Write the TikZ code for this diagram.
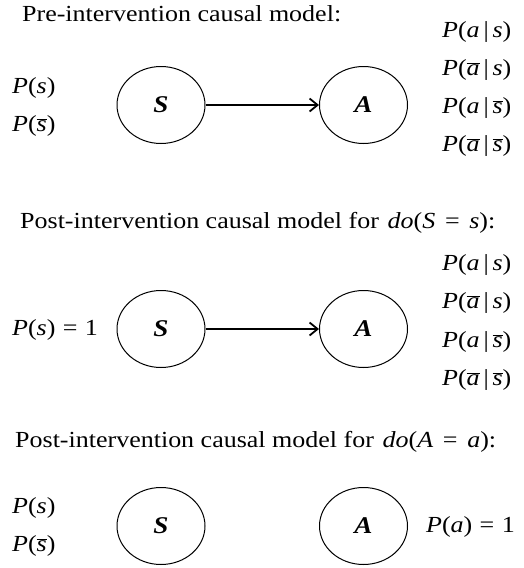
\documentclass[tikz,border=0pt]{standalone}
\usepackage{fontspec}
\setmainfont{Liberation Serif}[FakeStretch=1.13]
\usetikzlibrary{shapes.geometric,arrows.meta}

% italic letter with a bar over it (complement of an event)
\newcommand\cmpl[1]{\ensuremath{\overline{\mbox{\itshape #1}}}}
\newcommand\vbar{\,|\,}
\newcommand\eqs{\hspace{0.42em}=\hspace{0.42em}}
\newcommand\eqn{\hspace{0.32em}=\hspace{0.32em}}

\tikzset{
  var/.style={ellipse, draw, line width=1pt, minimum width=88pt,
    minimum height=77pt, inner sep=0pt,
    font=\fontsize{24}{26}\selectfont\bfseries\itshape},
  link/.style={line width=1.8pt, -{Straight Barb[length=8pt,width=13pt,line width=1.8pt]}},
  lab/.style={inner sep=0pt, anchor=west, font=\fontsize{23}{26}\selectfont},
  heading/.style={inner sep=0pt, anchor=base west, font=\fontsize{23}{26}\selectfont},
}

\begin{document}
\begin{tikzpicture}[x=1pt,y=-1pt]
\useasboundingbox (0,0) rectangle (523,568);

% ---- pre-intervention model
\node[heading] (h1) at (22,21) {Pre-intervention causal model:};
\node[var] (s1) at (161,105) {S};
\node[var] (a1) at (363.5,105) {A};
\draw[link] (s1) -- (a1);
\node[lab] (ps1)  at (12,88)  {\textit{P}(\textit{s})};
\node[lab] (pns1) at (12,126) {\textit{P}(\cmpl{s})};
\node[lab] (q11) at (442,32)  {\textit{P}(\textit{a}\vbar\textit{s})};
\node[lab] (q12) at (442,70)  {\textit{P}(\cmpl{a}\vbar\textit{s})};
\node[lab] (q13) at (442,108) {\textit{P}(\textit{a}\vbar\cmpl{s})};
\node[lab] (q14) at (442,146) {\textit{P}(\cmpl{a}\vbar\cmpl{s})};

% ---- do(S = s)
\node[heading] (h2) at (20,228) {Post-intervention causal model for\hspace{0.1em} \textit{do}(\textit{S}\eqs\textit{s}):};
\node[var] (s2) at (161,329) {S};
\node[var] (a2) at (363.5,329) {A};
\draw[link] (s2) -- (a2);
\node[lab] (ps2) at (12,330) {\textit{P}(\textit{s})\eqn1};
\node[lab] (q21) at (442,265) {\textit{P}(\textit{a}\vbar\textit{s})};
\node[lab] (q22) at (442,303) {\textit{P}(\cmpl{a}\vbar\textit{s})};
\node[lab] (q23) at (442,342) {\textit{P}(\textit{a}\vbar\cmpl{s})};
\node[lab] (q24) at (442,380) {\textit{P}(\cmpl{a}\vbar\cmpl{s})};

% ---- do(A = a)
\node[heading] (h3) at (15,447) {Post-intervention causal model for\hspace{0.1em} \textit{do}(\textit{A}\eqs\textit{a}):};
\node[var] (s3) at (161,526) {S};
\node[var] (a3) at (363.5,526) {A};
\node[lab] (ps3)  at (12,508) {\textit{P}(\textit{s})};
\node[lab] (pns3) at (12,546) {\textit{P}(\cmpl{s})};
\node[lab] (pa3)  at (426,527) {\textit{P}(\textit{a})\eqn1};
\end{tikzpicture}
\end{document}
